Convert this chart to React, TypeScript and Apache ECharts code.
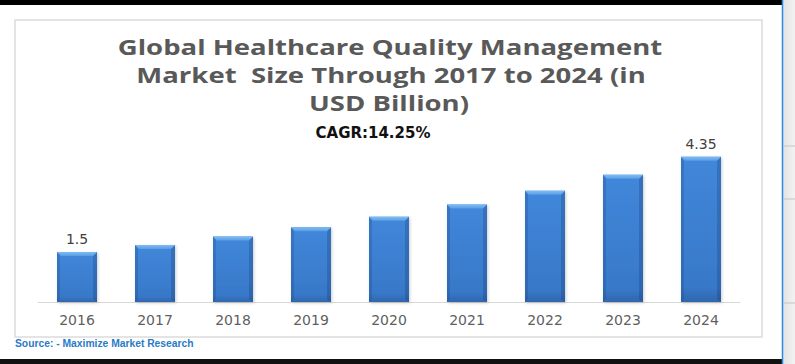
import React, { useEffect, useRef } from "react";
import * as echarts from "echarts";

const categories = ["2016", "2017", "2018", "2019", "2020", "2021", "2022", "2023", "2024"];
const marketSize = [1.5, 1.71, 1.96, 2.24, 2.55, 2.92, 3.33, 3.81, 4.35];
const labeledIndices = [0, 8];
const titleLines = [
  "Global Healthcare Quality Management",
  "Market\u00a0 Size Through 2017 to 2024 (in",
  "USD Billion)",
];
const cagrText = "CAGR:14.25%";
const sourceText = "Source: - Maximize Market Research";

export default function App() {
  const ref = useRef<HTMLDivElement>(null);

  useEffect(() => {
    if (!ref.current) return;
    const chart = echarts.init(ref.current, null, { renderer: "svg" });

    const titleX = [390, 391, 389];
    const titleY = [47, 75, 103];
    const titleGraphics = titleLines.map((t, i) => ({
      type: "text",
      x: titleX[i],
      y: titleY[i],
      scaleX: 1.28,
      z: 10,
      style: {
        text: t,
        x: 0,
        y: 0,
        align: "center",
        verticalAlign: "middle",
        fontFamily: "Open Sans",
        fontWeight: "bold",
        fontSize: 21.5,
        fill: "#595959",
      },
    }));

    const option: any = {
      animation: false,
      backgroundColor: "#ffffff",
      grid: { left: 38, right: 55, top: 135, bottom: 62 },
      xAxis: {
        type: "category",
        data: categories,
        axisLine: { show: true, lineStyle: { color: "#d9d9d9", width: 1 } },
        axisTick: { show: false },
        axisLabel: {
          color: "#5f5f5f",
          fontFamily: "DejaVu Sans",
          fontSize: 14,
          margin: 11,
        },
      },
      yAxis: {
        type: "value",
        min: 0,
        max: 5,
        show: false,
        splitLine: { show: false },
      },
      graphic: [
        {
          type: "rect",
          shape: { x: 15, y: 20, width: 747, height: 317 },
          style: { fill: "transparent", stroke: "#dcdcdc", lineWidth: 1.5 },
          z: 1,
        },
        {
          type: "rect",
          shape: { x: 0, y: 0, width: 783, height: 5 },
          style: { fill: "#000000" },
          z: 20,
        },
        {
          type: "rect",
          shape: { x: 0, y: 359, width: 783, height: 5 },
          style: { fill: "#111111" },
          z: 20,
        },
        {
          type: "rect",
          shape: { x: 783, y: 0, width: 12, height: 364 },
          style: {
            fill: new echarts.graphic.LinearGradient(0, 0, 1, 0, [
              { offset: 0, color: "#e2e2e2" },
              { offset: 1, color: "#f3f3f3" },
            ]),
          },
          z: 20,
        },
        {
          type: "line",
          shape: { x1: 782.5, y1: 0, x2: 782.5, y2: 364 },
          style: { stroke: "#2b8be0", lineWidth: 1.5 },
          z: 21,
        },
        ...[146, 199, 303].map((yy) => ({
          type: "line",
          shape: { x1: 784, y1: yy, x2: 795, y2: yy },
          style: { stroke: "#c4c4c4", lineWidth: 1 },
          z: 21,
        })),
        ...titleGraphics,
        {
          type: "text",
          x: 373,
          y: 132.5,
          z: 10,
          style: {
            text: cagrText,
            align: "center",
            verticalAlign: "middle",
            fontFamily: "DejaVu Sans",
            fontWeight: "bold",
            fontSize: 15,
            fill: "#111111",
          },
        },
        {
          type: "text",
          x: 15,
          y: 343,
          z: 10,
          style: {
            text: sourceText,
            align: "left",
            verticalAlign: "middle",
            fontFamily: "Liberation Sans",
            fontWeight: "bold",
            fontSize: 10.3,
            fill: "#2a7ac6",
          },
        },
      ],
      series: [
        {
          type: "bar",
          data: marketSize,
          barWidth: 40,
          itemStyle: {
            color: new echarts.graphic.LinearGradient(0, 0, 0, 1, [
              { offset: 0, color: "#4187da" },
              { offset: 0.9, color: "#3878c8" },
              { offset: 1, color: "#2f66ad" },
            ]),
            shadowColor: "rgba(0,0,0,0.2)",
            shadowBlur: 3,
            shadowOffsetX: 1,
            shadowOffsetY: 1,
          },
          label: {
            show: true,
            position: "top",
            distance: 6,
            fontFamily: "DejaVu Sans",
            fontSize: 14,
            color: "#404040",
            formatter: (p: any) => (labeledIndices.includes(p.dataIndex) ? String(p.value) : ""),
          },
          z: 2,
        },
        {
          type: "custom",
          silent: true,
          z: 3,
          data: marketSize.map((v, i) => [i, v]),
          encode: { x: 0, y: 1 },
          renderItem: (params: any, api: any) => {
            const idx = api.value(0);
            const val = api.value(1);
            const top = api.coord([idx, val]);
            const base = api.coord([idx, 0]);
            const w = 40;
            const b = 4;
            const x0 = top[0] - w / 2;
            const y0 = top[1];
            const y1 = base[1];
            return {
              type: "group",
              children: [
                {
                  type: "polygon",
                  shape: {
                    points: [
                      [x0, y0],
                      [x0 + 3, y0 + b],
                      [x0 + 3, y1 - 3],
                      [x0, y1],
                    ],
                  },
                  style: { fill: "rgba(25,60,120,0.22)" },
                },
                {
                  type: "polygon",
                  shape: {
                    points: [
                      [x0 + w, y0],
                      [x0 + w - b, y0 + b],
                      [x0 + w - b, y1 - 3],
                      [x0 + w, y1],
                    ],
                  },
                  style: { fill: "rgba(15,40,90,0.22)" },
                },
                {
                  type: "polygon",
                  shape: {
                    points: [
                      [x0, y0],
                      [x0 + w, y0],
                      [x0 + w - b, y0 + b],
                      [x0 + b, y0 + b],
                    ],
                  },
                  style: {
                    fill: new echarts.graphic.LinearGradient(0, 0, 0, 1, [
                      { offset: 0, color: "#7fbdf2" },
                      { offset: 1, color: "#5a9de6" },
                    ]),
                  },
                },
              ],
            };
          },
        },
      ],
    };

    chart.setOption(option);
    return () => chart.dispose();
  }, []);

  return (
    <div
      ref={ref}
      style={{ position: "fixed", left: 0, top: 0, width: 795, height: 364 }}
    />
  );
}
